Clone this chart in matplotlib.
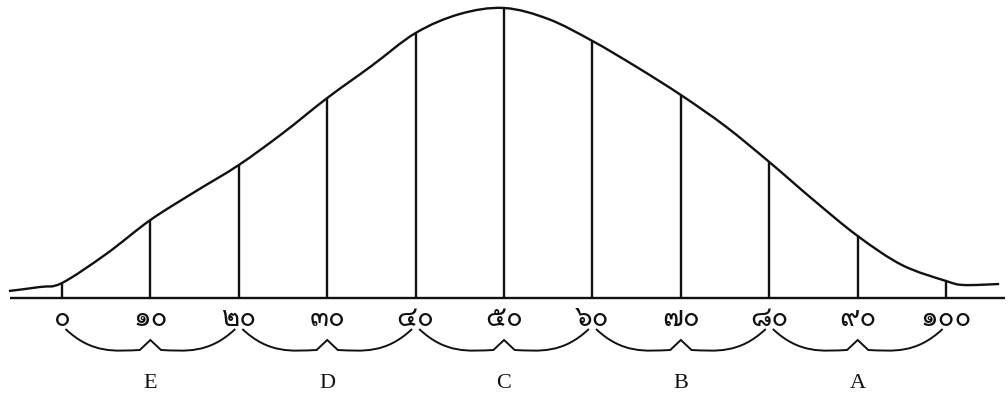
import matplotlib
matplotlib.use('Agg')
import matplotlib.pyplot as plt
from matplotlib import font_manager
from matplotlib.ft2font import FT2Font
from matplotlib.path import Path
from matplotlib.patches import PathPatch
import numpy as np

# ---- data ----
curve_x = [-6, -2.5, 0, 5, 10, 15, 20, 25, 30, 35, 40, 45, 50,
           55, 60, 65, 70, 75, 80, 85, 90, 95, 100, 102, 106]
curve_y = [7, 11, 15, 44, 78, 106, 133, 165, 200, 232, 265, 284, 290,
           279, 257, 231, 203, 172, 136, 98, 62, 33, 17, 13, 14]

ticks = [0, 10, 20, 30, 40, 50, 60, 70, 80, 90, 100]
line_tops = [15, 78, 133, 200, 265, 290, 257, 203, 136, 62, 17]
tick_labels = ['๐', '๑๐', '๒๐', '๓๐', '๔๐', '๕๐', '๖๐', '๗๐', '๘๐', '๙๐', '๑๐๐']

grade_edges = [0, 20, 40, 60, 80, 100]
grades = ['E', 'D', 'C', 'B', 'A']


def thai_family():
    # find any installed font that has Thai digits
    for f in font_manager.fontManager.ttflist:
        try:
            if 0x0E51 in FT2Font(f.fname).get_charmap():
                return f.name
        except Exception:
            pass
    return 'DejaVu Sans'


def smooth_path(xs, ys):
    # catmull-rom through the read points, drawn as bezier segments
    p = np.column_stack([xs, ys]).astype(float)
    p = np.vstack([p[0], p, p[-1]])
    verts = [p[1]]
    codes = [Path.MOVETO]
    for i in range(1, len(p) - 2):
        c1 = p[i] + (p[i + 1] - p[i - 1]) / 6
        c2 = p[i + 1] - (p[i + 2] - p[i]) / 6
        verts += [c1, c2, p[i + 1]]
        codes += [Path.CURVE4] * 3
    return Path(verts, codes)


def brace_path(a, b, top=-31, bot=-53, bump=-42):
    m = (a + b) / 2
    verts = [(a, top), (a + 3, bot - 3), (m - 4, bot), (m - 1.2, bot + 1),
             (m, bump), (m + 1.2, bot + 1),
             (m + 4, bot), (b - 3, bot - 3), (b, top)]
    codes = [Path.MOVETO, Path.CURVE4, Path.CURVE4, Path.CURVE4,
             Path.LINETO, Path.LINETO,
             Path.CURVE4, Path.CURVE4, Path.CURVE4]
    return Path(verts, codes)


fig = plt.figure(figsize=(10.08, 3.95), dpi=100)
ax = fig.add_axes([0, 0, 1, 1])
ax.set_xlim(-7.01, 107.0)
ax.set_ylim(-97, 298)
ax.axis('off')

ink = '#111111'

# base line
ax.plot([-5.9, 106.7], [0, 0], color=ink, lw=1.7, solid_capstyle='butt')

# bell curve
ax.add_patch(PathPatch(smooth_path(curve_x, curve_y), fill=False,
                       edgecolor=ink, lw=1.7))

# verticals at every 10
ax.vlines(ticks, 0, line_tops, color=ink, lw=1.7)

thai = thai_family()
for t, lab in zip(ticks, tick_labels):
    ax.text(t, -21, lab, ha='center', va='center', fontsize=20,
            family=[thai, 'DejaVu Sans'], color=ink)

# grade braces and letters
for i, g in enumerate(grades):
    a, b = grade_edges[i] + 0.4, grade_edges[i + 1] - 0.4
    ax.add_patch(PathPatch(brace_path(a, b), fill=False, edgecolor=ink, lw=1.4))
    ax.text((a + b) / 2, -86, g, ha='center', va='center', fontsize=16,
            family='Liberation Serif', color=ink)

fig.savefig('out.png', dpi=100, facecolor='white')
